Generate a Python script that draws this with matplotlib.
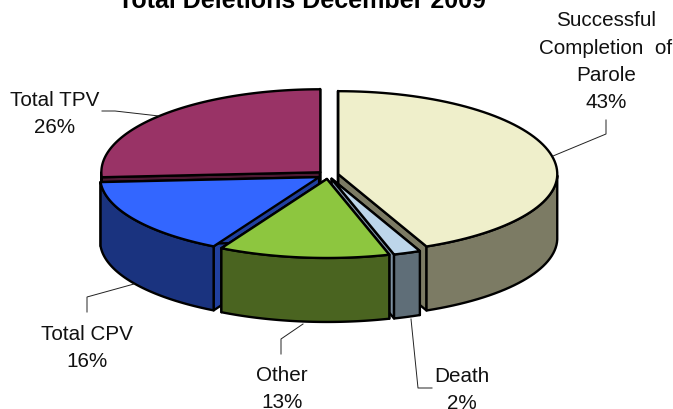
import numpy as np
import matplotlib
matplotlib.use('Agg')
import matplotlib.pyplot as plt
from matplotlib.patches import Polygon

plt.rcParams['font.family'] = ['Liberation Sans', 'DejaVu Sans']

title = 'Total Deletions December 2009'
labels = ['Successful\nCompletion  of\nParole', 'Death', 'Other', 'Total CPV', 'Total TPV']
values = [43.4, 2.0, 12.6, 16.0, 26.0]
top_colors = ['#EFEFCB', '#BDD6EA', '#8DC63F', '#3366FF', '#993366']
wall_colors = ['#7C7B64', '#5F6E78', '#4A6420', '#1A337F', '#4D1A33']
face_colors = ['#7C7B64', '#7C8FA0', '#4A6420', '#21409F', '#4D1A33']

# pixel geometry of the fake 3d pie
cx, cy = 328, 176
rx = 219
ry_back, ry_front = 83, 79
depth = 64
explode = 10.5
draw_order = [4, 0, 3, 1, 2]

fig = plt.figure(figsize=(6.73, 4.10), dpi=100)
ax = fig.add_axes([0, 0, 1, 1])
ax.set_xlim(0, 673)
ax.set_ylim(410, 0)
ax.axis('off')


def rim(x0, y0, a0, a1):
    t = np.radians(np.linspace(a0, a1, 80))
    c = np.cos(t)
    ry = np.where(c >= 0, ry_back, ry_front)
    return np.column_stack([x0 + rx * np.sin(t), y0 - ry * c])


edges = np.concatenate([[0], np.cumsum(values)]) / sum(values) * 360
for i in draw_order:
    a0, a1 = edges[i], edges[i + 1]
    mid = np.radians((a0 + a1) / 2)
    x0 = cx + explode * np.sin(mid)
    y0 = cy - explode * 0.38 * np.cos(mid)
    arc = rim(x0, y0, a0, a1)
    apex = np.array([x0, y0])
    down = np.array([0, depth])
    kw = dict(ec='black', lw=1.7, joinstyle='round')

    # cut faces
    for p in (arc[0], arc[-1]):
        ax.add_patch(Polygon([apex, p, p + down, apex + down], fc=face_colors[i], **kw))
    # outer wall, only the part facing the viewer
    front = np.radians(np.linspace(a0, a1, 80))
    keep = np.cos(front) <= 0
    if keep.any():
        w = arc[keep]
        ax.add_patch(Polygon(np.vstack([w, (w + down)[::-1]]), fc=wall_colors[i], **kw))
    ax.add_patch(Polygon(np.vstack([apex, arc]), fc=top_colors[i], **kw))

ax.text(302, 8.5, title, ha='center', va='baseline', fontsize=18, fontweight='bold')

# baseline of the last line of each label
label_xy = [(606, 108), (462, 409), (282, 408), (87, 367), (55, 133)]
for lab, val, (x, y) in zip(labels, values, label_xy):
    ax.text(x, y, f'{lab}\n{val:.0f}%', ha='center', va='baseline', fontsize=14.9,
            linespacing=1.55, color='#111111')

leaders = [
    ([606, 606, 553], [121, 135, 157]),
    ([432, 418, 411], [389, 389, 320]),
    ([281, 281, 303], [355, 340, 325]),
    ([87, 87, 134], [313, 298, 285]),
    ([102, 115, 159], [112, 112, 117]),
]
for xs, ys in leaders:
    ax.plot(xs, ys, color='#222222', lw=0.7)

fig.savefig('out.png', dpi=100)
